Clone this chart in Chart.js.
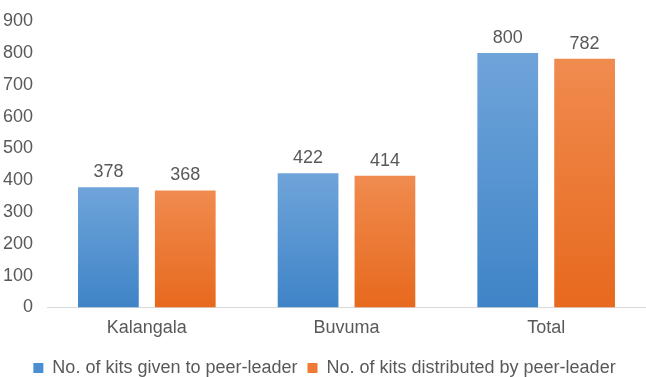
<!DOCTYPE html>
<html>
<head>
<meta charset="utf-8">
<script src="https://cdn.jsdelivr.net/npm/chart.js@4/dist/chart.umd.min.js"></script>
<style>
  html, body { margin: 0; padding: 0; background: #fff; }
  #wrap { width: 646px; height: 377px; }
</style>
</head>
<body>
<div id="wrap"><canvas id="kitsChart"></canvas></div>
<script>
const categories = ['Kalangala', 'Buvuma', 'Total'];
const givenKits = [378, 422, 800];
const distributedKits = [368, 414, 782];
const yTicks = [0, 100, 200, 300, 400, 500, 600, 700, 800, 900];

const FONT = '"Liberation Sans", Arial, sans-serif';

// gradient per bar, lighter on top
function barGradient(top, bottom) {
    return function (c) {
        const chart = c.chart;
        const y = chart.scales && chart.scales.y;
        if (!chart.chartArea || !y || c.parsed === undefined) return bottom;
        const yTop = y.getPixelForValue(c.parsed.y);
        const yBot = y.getPixelForValue(0);
        const g = chart.ctx.createLinearGradient(0, yTop, 0, yBot);
        g.addColorStop(0, top);
        g.addColorStop(1, bottom);
        return g;
    };
}

// values above bars
const valueLabels = {
    id: 'valueLabels',
    afterDatasetsDraw(chart) {
        const ctx = chart.ctx;
        ctx.save();
        ctx.font = '18px ' + FONT;
        ctx.fillStyle = '#595959';
        ctx.textAlign = 'center';
        ctx.textBaseline = 'alphabetic';
        chart.data.datasets.forEach((ds, i) => {
            chart.getDatasetMeta(i).data.forEach((bar, j) => {
                ctx.fillText(ds.data[j], bar.x, bar.y - 10);
            });
        });
        ctx.restore();
    }
};

new Chart(document.getElementById('kitsChart'), {
    type: 'bar',
    data: {
        labels: categories,
        datasets: [{
            label: 'No. of kits given to peer-leader',
            data: givenKits,
            backgroundColor: barGradient('#6fa4da', '#3f84c7'),
            categoryPercentage: 0.77,
            barPercentage: 0.79
        }, {
            label: 'No. of kits distributed by peer-leader',
            data: distributedKits,
            backgroundColor: barGradient('#f08b4f', '#e7691d'),
            categoryPercentage: 0.77,
            barPercentage: 0.79
        }]
    },
    options: {
        responsive: true,
        maintainAspectRatio: false,
        animation: false,
        layout: { padding: { top: -13, right: 0, left: 3, bottom: -10 } },
        scales: {
            x: {
                grid: { display: false, drawTicks: false },
                border: { display: true, color: '#d9d9d9', width: 1 },
                ticks: {
                    color: '#595959',
                    padding: 10,
                    font: { family: FONT, size: 18 }
                }
            },
            y: {
                min: 0,
                max: 900,
                afterBuildTicks(axis) { axis.ticks = yTicks.map(v => ({ value: v })); },
                afterFit(axis) { axis.width = 44; },
                grid: { display: false, drawTicks: false },
                border: { display: false },
                ticks: {
                    color: '#595959',
                    padding: 14,
                    font: { family: FONT, size: 18, lineHeight: 0.8 }
                }
            }
        },
        plugins: {
            legend: {
                position: 'bottom',
                labels: {
                    color: '#595959',
                    boxWidth: 10,
                    boxHeight: 10,
                    padding: 10,
                    font: { family: FONT, size: 18 },
                    generateLabels(chart) {
                        const cols = ['#4a8fd2', '#ee7a35'];
                        return chart.data.datasets.map((ds, i) => ({
                            text: ds.label,
                            fillStyle: cols[i],
                            strokeStyle: cols[i],
                            lineWidth: 0,
                            datasetIndex: i,
                            fontColor: '#595959'
                        }));
                    }
                }
            },
            tooltip: { enabled: false }
        }
    },
    plugins: [valueLabels]
});
</script>
</body>
</html>
